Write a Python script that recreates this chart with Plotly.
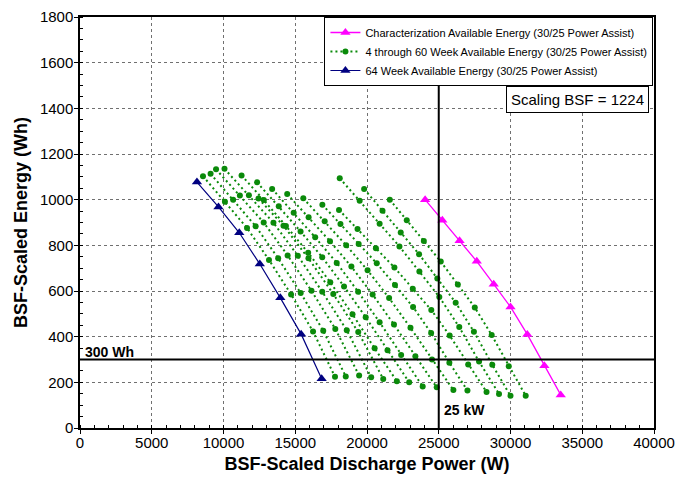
import plotly.graph_objects as go

# Characterization (30/25 power assist)
char_power = [24050, 25250, 26450, 27650, 28830, 30000, 31170, 32360, 33500]
char_energy = [1000, 910, 820, 730, 630, 530, 410, 273, 145]

# 64 week test
wk64_power = [8150, 9650, 11100, 12530, 13960, 15410, 16840]
wk64_energy = [1077, 968, 855, 718, 570, 411, 216]

# 4 through 60 week tests
wk04_power = [21590, 22770, 23960, 25140, 26330, 27510, 28690, 29880, 31060]
wk04_energy = [1000, 910, 819, 729, 628, 528, 407, 270, 141]
wk08_power = [19800, 21080, 22350, 23630, 24900, 26180, 27450, 28730, 30000]
wk08_energy = [1047, 952, 856, 761, 655, 549, 422, 277, 141]
wk12_power = [18100, 19490, 20880, 22260, 23650, 25040, 26430, 27810, 29200]
wk12_energy = [1094, 995, 895, 795, 685, 574, 442, 291, 149]
wk16_power = [18050, 19340, 20620, 21910, 23190, 24480, 25760, 27050, 28330]
wk16_energy = [955, 871, 787, 703, 610, 517, 405, 278, 158]
wk20_power = [16890, 18150, 19420, 20680, 21950, 23210, 24470, 25740, 27000]
wk20_energy = [978, 893, 806, 721, 626, 530, 416, 286, 164]
wk24_power = [15560, 17050, 18550, 20040, 21540, 23030, 24530, 26020]
wk24_energy = [1006, 905, 800, 691, 569, 439, 300, 166]
wk28_power = [14440, 15930, 17420, 18910, 20390, 21880, 23370, 24860]
wk28_energy = [1025, 923, 818, 707, 585, 453, 314, 178]
wk32_power = [13390, 14890, 16390, 17890, 19380, 20880, 22380, 23880]
wk32_energy = [1047, 943, 835, 723, 597, 463, 320, 182]
wk36_power = [12340, 13850, 15370, 16880, 18400, 19910, 21430, 22940]
wk36_energy = [1076, 971, 861, 748, 620, 485, 340, 200]
wk40_power = [11260, 12810, 14350, 15900, 17440, 18990, 20530, 22080]
wk40_energy = [1106, 998, 885, 768, 638, 498, 349, 205]
wk44_power = [12440, 14180, 15920, 17650, 19390, 21130]
wk44_energy = [1005, 886, 743, 587, 420, 215]
wk48_power = [10070, 11770, 13480, 15180, 16880, 18590, 20290]
wk48_energy = [1135, 1019, 899, 754, 597, 428, 222]
wk52_power = [9480, 11140, 12800, 14470, 16130, 17790, 19450]
wk52_energy = [1133, 1018, 900, 756, 601, 434, 230]
wk56_power = [9100, 10670, 12240, 13810, 15380, 16950, 18520]
wk56_energy = [1113, 1000, 884, 743, 591, 426, 226]
wk60_power = [8570, 10100, 11640, 13170, 14710, 16240, 17770]
wk60_energy = [1103, 991, 876, 736, 585, 423, 224]

week_series = [
    (wk04_power, wk04_energy), (wk08_power, wk08_energy),
    (wk12_power, wk12_energy), (wk16_power, wk16_energy),
    (wk20_power, wk20_energy), (wk24_power, wk24_energy),
    (wk28_power, wk28_energy), (wk32_power, wk32_energy),
    (wk36_power, wk36_energy), (wk40_power, wk40_energy),
    (wk44_power, wk44_energy), (wk48_power, wk48_energy),
    (wk52_power, wk52_energy), (wk56_power, wk56_energy),
    (wk60_power, wk60_energy),
]

x_ticks = [0, 5000, 10000, 15000, 20000, 25000, 30000, 35000, 40000]
y_ticks = [0, 200, 400, 600, 800, 1000, 1200, 1400, 1600, 1800]

MAGENTA = "#ff00ff"
GREEN = "#0a8a0a"
NAVY = "#000080"
FONT = "Liberation Sans, Arial, sans-serif"

fig = go.Figure()

fig.add_trace(go.Scatter(
    x=char_power, y=char_energy, mode="lines+markers",
    name="Characterization Available Energy (30/25 Power Assist)",
    line=dict(color=MAGENTA, width=1.3),
    marker=dict(symbol="triangle-up", size=9, color=MAGENTA),
))

for i, (px, py) in enumerate(week_series):
    fig.add_trace(go.Scatter(
        x=px, y=py, mode="lines+markers",
        name="4 through 60 Week Available Energy (30/25 Power Assist)",
        legendgroup="weeks", showlegend=(i == 0),
        line=dict(color=GREEN, width=2, dash="2px,3px"),
        marker=dict(symbol="circle", size=6, color=GREEN),
    ))

fig.add_trace(go.Scatter(
    x=wk64_power, y=wk64_energy, mode="lines+markers",
    name="64 Week Available Energy (30/25 Power Assist)",
    line=dict(color=NAVY, width=1.2),
    marker=dict(symbol="triangle-up", size=9, color=NAVY),
))

# 300 Wh and 25 kW limit lines
fig.add_shape(type="line", x0=0, x1=40000, y0=300, y1=300,
              line=dict(color="black", width=2))
fig.add_shape(type="line", x0=25000, x1=25000, y0=0, y1=1800,
              line=dict(color="black", width=2))

fig.add_annotation(x=200, y=300, text="<b>300 Wh</b>", showarrow=False,
                   xanchor="left", yanchor="bottom", yshift=-2,
                   font=dict(family=FONT, size=14, color="black"))
fig.add_annotation(x=25250, y=80, text="<b>25 kW</b>", showarrow=False,
                   xanchor="left", yanchor="middle",
                   font=dict(family=FONT, size=14, color="black"))

fig.add_annotation(xref="paper", yref="paper", x=0.992, y=0.832,
                   xanchor="right", yanchor="top",
                   text="Scaling BSF = 1224", showarrow=False,
                   bordercolor="black", borderwidth=1, borderpad=4,
                   bgcolor="white",
                   font=dict(family=FONT, size=15, color="black"))

axis_common = dict(
    showline=True, linecolor="black", linewidth=1.5, mirror=True,
    showgrid=True, gridcolor="#707070", gridwidth=1, griddash="3px,3px",
    ticks="outside", ticklen=4, tickcolor="black",
    tickfont=dict(family=FONT, size=15, color="black"),
    tickformat="d", zeroline=False, automargin=False,
)

fig.update_xaxes(
    range=[0, 40000], tickvals=x_ticks, ticklabelstandoff=-4,
    title=dict(text="<b>BSF-Scaled Discharge Power (W)</b>", standoff=8,
               font=dict(family=FONT, size=18, color="black")),
    minor=dict(dtick=1000, ticks="inside", ticklen=3, tickcolor="black",
               showgrid=False),
    **axis_common,
)
fig.update_yaxes(
    range=[0, 1800], tickvals=y_ticks, ticklabelstandoff=-2,
    title=dict(text="<b>BSF-Scaled Energy (Wh)</b>", standoff=8,
               font=dict(family=FONT, size=18, color="black")),
    minor=dict(dtick=50, ticks="inside", ticklen=3, tickcolor="black",
               showgrid=False),
    **axis_common,
)

fig.update_layout(
    width=678, height=477,
    margin=dict(l=80, r=24, t=17, b=49),
    paper_bgcolor="white", plot_bgcolor="white",
    font=dict(family=FONT, color="black"),
    legend=dict(
        x=0.999, y=1.0, xanchor="right", yanchor="top",
        bgcolor="white", bordercolor="black", borderwidth=1,
        font=dict(family=FONT, size=11, color="black"),
        tracegroupgap=0, itemwidth=30,
    ),
)

fig.write_html("out.html")
